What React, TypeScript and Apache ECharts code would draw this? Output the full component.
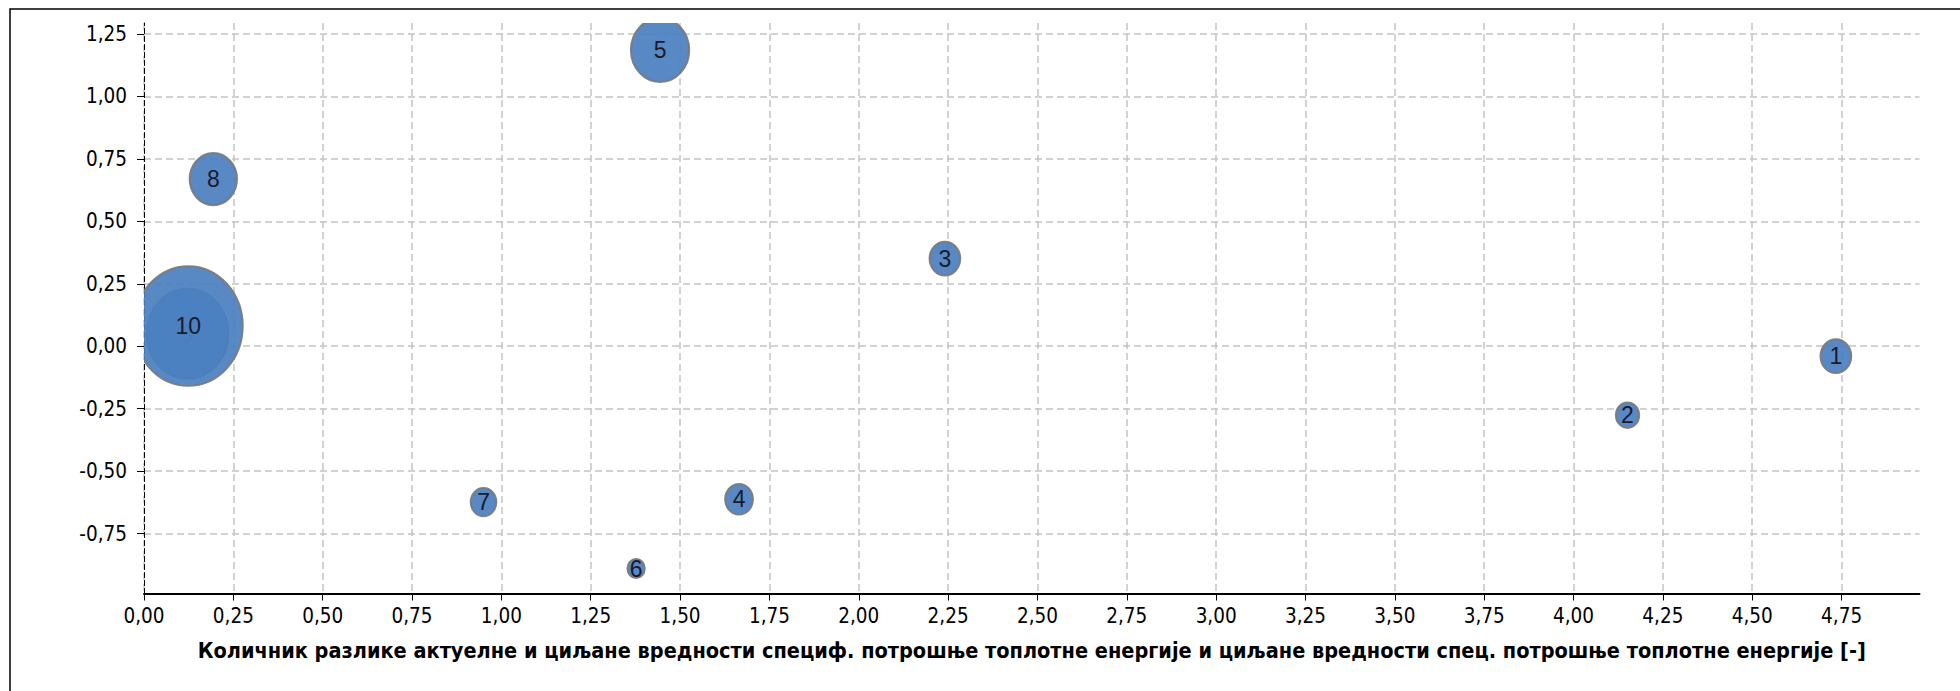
import React, { useEffect, useRef } from "react";
import * as echarts from "echarts";

const pointLabels = ["1", "2", "3", "4", "5", "6", "7", "8", "9", "10"];
const xValues = [4.734, 4.151, 2.241, 1.665, 1.444, 1.377, 0.95, 0.194, 0.122, 0.124];
const yValues = [-0.04, -0.276, 0.351, -0.613, 1.186, -0.89, -0.624, 0.669, 0.05, 0.081];
const bubbleValues = [9.4, 5.4, 9.4, 7.7, 34.0, 3.0, 6.6, 22.4, 67.2, 118.4];

const xTicks = [0, 0.25, 0.5, 0.75, 1, 1.25, 1.5, 1.75, 2, 2.25, 2.5, 2.75, 3, 3.25, 3.5, 3.75, 4, 4.25, 4.5, 4.75];
const yTicks = [-0.75, -0.5, -0.25, 0, 0.25, 0.5, 0.75, 1, 1.25];

const xTitle =
  "Количник разлике актуелне и циљане вредности специф. потрошње топлотне енергије и циљане вредности спец. потрошње топлотне енергије [-]";

const fmt = (v: number) => v.toFixed(2).replace(".", ",");

export default function App() {
  const ref = useRef<HTMLDivElement>(null);
  useEffect(() => {
    if (!ref.current) return;
    const chart = echarts.init(ref.current, null, { renderer: "svg" });
    const data = xValues.map((x, i) => [x, yValues[i], bubbleValues[i], i]);
    chart.setOption({
      animation: false,
      backgroundColor: "#ffffff",
      grid: { left: 144, top: 23, right: 40.5, bottom: 97.5, containLabel: false },
      graphic: [
        {
          type: "rect",
          shape: { x: 10, y: 9, width: 3000, height: 3000 },
          style: { fill: "none", stroke: "#000000", lineWidth: 1.5 },
          silent: true,
        },
      ],
      xAxis: {
        type: "value",
        min: 0,
        max: 4.968,
        name: xTitle,
        nameLocation: "middle",
        nameGap: 46,
        nameTextStyle: {
          fontFamily: "DejaVu Sans Condensed",
          fontWeight: "bold",
          fontSize: 21.5,
          color: "#000000",
        },
        axisLine: { show: true, onZero: false, lineStyle: { color: "#000000", width: 2 } },
        axisTick: { show: true, length: 7, customValues: xTicks, lineStyle: { color: "#000000", width: 1 } },
        axisLabel: {
          customValues: xTicks,
          formatter: (v: number) => fmt(v),
          fontFamily: "DejaVu Sans Condensed",
          fontSize: 20.5,
          color: "#000000",
          margin: 12,
        },
        splitLine: { show: true, lineStyle: { color: "#c4c4c4", width: 1.5, type: [7, 4] } },
      },
      yAxis: {
        type: "value",
        min: -0.99,
        max: 1.294,
        axisLine: { show: true, onZero: false, lineStyle: { color: "#000000", width: 1, type: [5, 3] } },
        axisTick: { show: true, length: 7, customValues: yTicks, lineStyle: { color: "#000000", width: 1 } },
        axisLabel: {
          customValues: yTicks,
          formatter: (v: number) => fmt(v),
          fontFamily: "DejaVu Sans Condensed",
          fontSize: 20.5,
          color: "#000000",
          margin: 17,
        },
        splitLine: { show: true, lineStyle: { color: "#c4c4c4", width: 1.5, type: [7, 4] } },
      },
      series: [
        {
          type: "custom",
          clip: true,
          data,
          encode: { x: 0, y: 1 },
          renderItem: (params: any, api: any) => {
            const c = api.coord([api.value(0), api.value(1)]);
            const d = Math.sqrt(api.value(2)) * 10;
            const idx = api.value(3);
            const faded = pointLabels[idx] === "9";
            return {
              type: "group",
              children: [
                {
                  type: "ellipse",
                  shape: { cx: c[0], cy: c[1], rx: d / 2, ry: (d * 1.1) / 2 },
                  style: {
                    fill: "#4a7fc0",
                    stroke: "#7a7a7a",
                    lineWidth: 2,
                    opacity: 0.92,
                  },
                },
                {
                  type: "text",
                  x: c[0],
                  y: c[1],
                  style: {
                    text: pointLabels[idx],
                    fill: faded ? "rgba(30,30,45,0.35)" : "#1a1a2a",
                    fontFamily: "Liberation Sans",
                    fontSize: 23,
                    align: "center",
                    verticalAlign: "middle",
                  },
                },
              ],
            };
          },
        },
      ],
    });
    return () => chart.dispose();
  }, []);
  return (
    <div
      ref={ref}
      style={{ position: "absolute", left: 0, top: 0, width: 1960, height: 691 }}
    />
  );
}
